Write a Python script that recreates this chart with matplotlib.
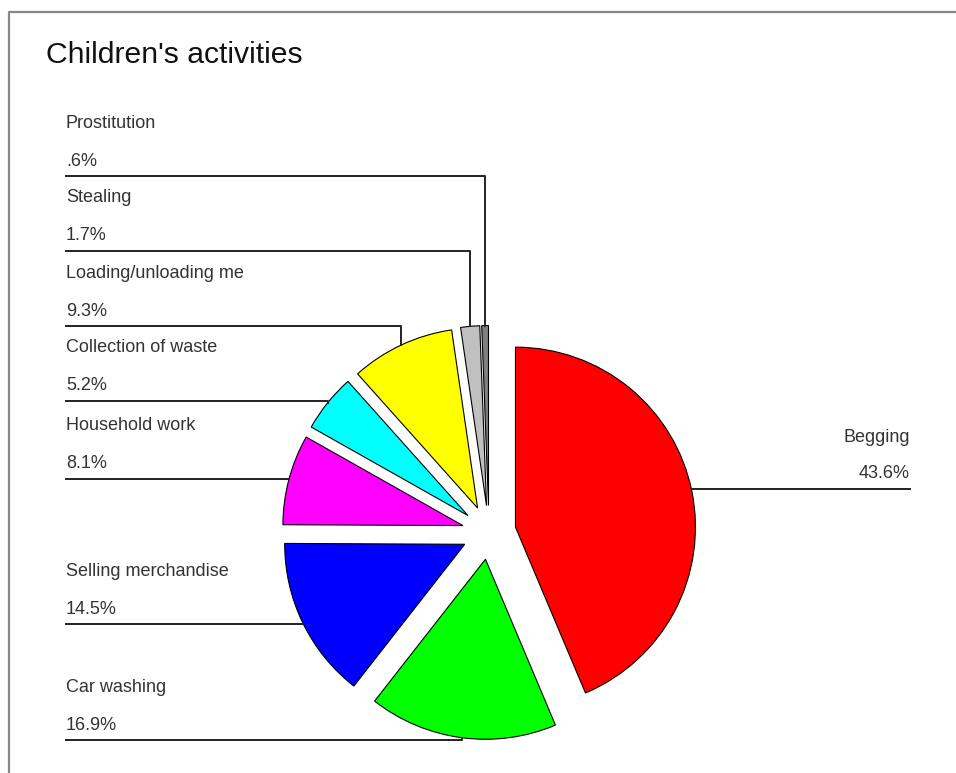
import numpy as np
import matplotlib
matplotlib.use("Agg")
import matplotlib.pyplot as plt

plt.rcParams['font.family'] = ['Liberation Sans', 'DejaVu Sans']

# dati del grafico (ordine in senso orario partendo dall'alto)
activities = ['Begging', 'Car washing', 'Selling merchandise', 'Household work',
              'Collection of waste', 'Loading/unloading me', 'Stealing', 'Prostitution']
percent = [43.6, 16.9, 14.5, 8.1, 5.2, 9.3, 1.7, 0.6]
pct_labels = ['43.6%', '16.9%', '14.5%', '8.1%', '5.2%', '9.3%', '1.7%', '.6%']
colors = ['#ff0000', '#00ff00', '#0000ff', '#ff00ff', '#00ffff', '#ffff00', '#c0c0c0', '#808080']

# posizione (in pixel) della linea sotto ogni etichetta
line_y = [489, 740, 624, 479, 401, 326, 251, 176]

W, H = 956, 773
fig = plt.figure(figsize=(W / 100, H / 100), dpi=100)
ax = fig.add_axes([0, 0, 1, 1])

# con l'asse y invertito gli angoli vanno al contrario
wedges, _ = ax.pie(percent, colors=colors, startangle=-90, counterclock=True,
                   center=(489, 532.5), radius=180, explode=[27] * len(percent),
                   wedgeprops=dict(edgecolor='black', linewidth=0.8), frame=True)
ax.set_xlim(0, W)
ax.set_ylim(H, 0)
ax.set_aspect('equal')
ax.axis('off')

# cornice grigia (solo sopra e a sinistra)
ax.plot([9, 9, W], [H, 12, 12], color='#888888', lw=1.6, solid_capstyle='butt')

ax.text(46, 55, "Children's activities", fontsize=21.7, color='#111111', va='center', ha='left')

for w, name, pl, ly in zip(wedges, activities, pct_labels, line_y):
    mid = np.deg2rad((w.theta1 + w.theta2) / 2)
    ax_x = w.center[0] + w.r * np.cos(mid)
    ax_y = w.center[1] + w.r * np.sin(mid)
    if name == 'Begging':
        ax.plot([ax_x, 910], [ly, ly], color='#222222', lw=1.4)
        ax.text(910, ly - 52, name, fontsize=13, color='#333333', ha='right', va='center')
        ax.text(910, ly - 15, pl, fontsize=13, color='#333333', ha='right', va='center')
    else:
        ax.plot([66, ax_x, ax_x], [ly, ly, ax_y], color='#222222', lw=1.4)
        ax.text(66, ly - 53, name, fontsize=13, color='#333333', ha='left', va='center')
        ax.text(66, ly - 15, pl, fontsize=13, color='#333333', ha='left', va='center')

fig.savefig('out.png', dpi=100, facecolor='white')
